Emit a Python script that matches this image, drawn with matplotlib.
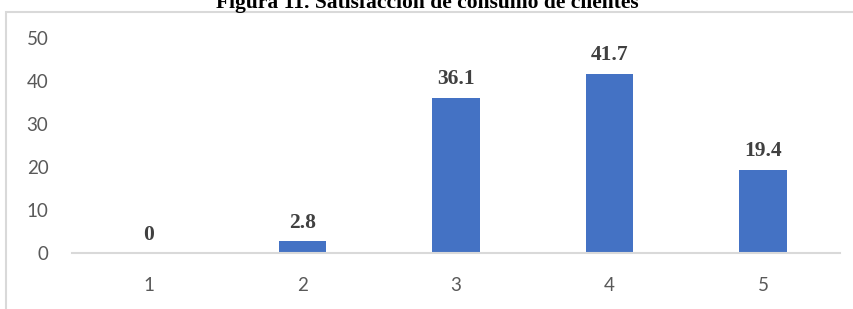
import matplotlib
matplotlib.use("Agg")
import matplotlib.pyplot as plt
from matplotlib.patches import Rectangle

categories = ["1", "2", "3", "4", "5"]
values = [0, 2.8, 36.1, 41.7, 19.4]
value_labels = ["0", "2.8", "36.1", "41.7", "19.4"]
title = "Figura 11. Satisfacción de consumo de clientes"

W, H = 854, 309
fig = plt.figure(figsize=(W/100, H/100), dpi=100)

# outer chart frame
fig.patches.append(Rectangle((6/W, -0.1), 1.2, 1 - 12/H + 0.1, transform=fig.transFigure,
                             fill=False, edgecolor="#d9d9d9", linewidth=1.5))

ax = fig.add_axes([72/W, 1 - 253/H, (840-72)/W, (253-38)/H])
x = range(len(categories))
ax.bar(x, values, width=0.31, color="#4472c4")
ax.set_xlim(-0.5, len(categories) - 0.5)
ax.set_ylim(0, 50)
ax.set_yticks([0, 10, 20, 30, 40, 50])
ax.set_xticks(list(x))
ax.set_xticklabels(categories)
for s in ["top", "right", "left"]:
    ax.spines[s].set_visible(False)
ax.spines["bottom"].set_color("#d9d9d9")
ax.spines["bottom"].set_linewidth(1.5)
ax.tick_params(axis="both", length=0, labelsize=13.5, labelcolor="#595959")
ax.tick_params(axis="x", pad=17)
ax.tick_params(axis="y", pad=17)
for lbl in ax.get_xticklabels() + ax.get_yticklabels():
    lbl.set_family("Lato")

for xi, v, t in zip(x, values, value_labels):
    ax.annotate(t, (xi, v), xytext=(0, 6), textcoords="offset points",
                ha="center", va="bottom", fontsize=15.5, fontweight="bold",
                family="Liberation Serif", color="#404040")

fig.text(0.5, 1 - 8/H, title, ha="center", va="baseline", fontsize=15.5,
         fontweight="bold", family="Liberation Serif", color="black")

fig.savefig("out.png", dpi=100)
